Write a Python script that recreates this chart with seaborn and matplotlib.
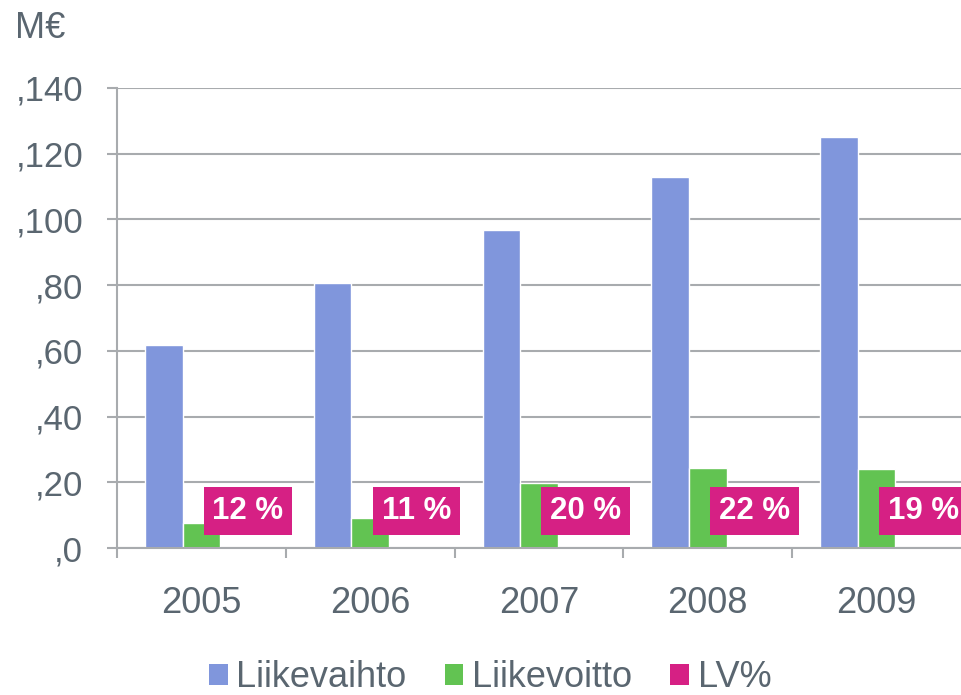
import matplotlib
matplotlib.use("Agg")
from matplotlib import pyplot as plt
from matplotlib.patches import Patch
from matplotlib.ticker import FixedLocator
import seaborn as sns
import pandas as pd

# values
years = ["2005", "2006", "2007", "2008", "2009"]
liikevaihto = [61.8, 80.6, 96.8, 112.9, 125.1]
liikevoitto = [7.6, 9.1, 19.8, 24.3, 24.0]
lv_pct = [0.12, 0.11, 0.20, 0.22, 0.19]
lv_labels = ["12 %", "11 %", "20 %", "22 %", "19 %"]
series = ["Liikevaihto", "Liikevoitto", "LV%"]
colors = ["#8096DC", "#62C352", "#D62084"]
y_ticks = [0, 20, 40, 60, 80, 100, 120, 140]

text_col = "#5A6670"
grid_col = "#A8ABAE"

df = pd.DataFrame({
    "vuosi": years * 3,
    "arvo": liikevaihto + liikevoitto + lv_pct,
    "sarja": [s for s in series for _ in years],
})

sns.set_style("white")
plt.rcParams['font.family'] = ['Liberation Sans', 'DejaVu Sans']

fig = plt.figure(figsize=(9.61, 6.95), dpi=100)
ax = fig.add_axes([0.1217, 0.2115, 0.8783, 0.6619])

sns.barplot(data=df, x="vuosi", y="arvo", hue="sarja", palette=colors,
            width=0.667, gap=0, ax=ax, legend=False, saturation=1)

ax.set_xlim(-0.5, 4.5)
ax.set_ylim(0, 140)
ax.set_yticks(y_ticks)
ax.set_yticklabels(["," + str(v) for v in y_ticks])
ax.yaxis.grid(True, color=grid_col, linewidth=1.5)
ax.set_axisbelow(True)
ax.set_xlabel("")
ax.set_ylabel("")

for side in ["top", "right"]:
    ax.spines[side].set_visible(False)
for side in ["left", "bottom"]:
    ax.spines[side].set_color(grid_col)
    ax.spines[side].set_linewidth(1.5)

ax.tick_params(axis="y", which="major", length=7.2, width=1.5, color=grid_col,
               labelsize=25, labelcolor=text_col, pad=17, direction="out", left=True)
ax.tick_params(axis="x", which="major", length=0, labelsize=26,
               labelcolor=text_col, pad=27)
ax.xaxis.set_minor_locator(FixedLocator([-0.5, 0.5, 1.5, 2.5, 3.5]))
ax.tick_params(axis="x", which="minor", length=7.2, width=1.5, color=grid_col,
               direction="out", bottom=True)

# LV% labels above the (tiny) third bar of each group
lv_bars = ax.containers[2]
for bar, lab in zip(lv_bars, lv_labels):
    cx = bar.get_x() + bar.get_width() / 2 + 0.053
    ax.text(cx, 11.2, lab, ha="center", va="center", fontsize=22.5,
            fontweight="bold", color="white", clip_on=False,
            bbox=dict(boxstyle="square,pad=0.28", facecolor=colors[2],
                      edgecolor="none"))

fig.text(0.016, 0.959, "M€", fontsize=26, color=text_col, va="center", ha="left")

handles = [Patch(facecolor=c, edgecolor="none") for c in colors]
fig.legend(handles, series, loc="center", bbox_to_anchor=(0.51, 0.025),
           ncol=3, frameon=False, fontsize=26, labelcolor=text_col,
           handlelength=0.52, handleheight=0.52, handletextpad=0.24,
           columnspacing=1.05, borderpad=0)

fig.savefig("out.png", dpi=100)
